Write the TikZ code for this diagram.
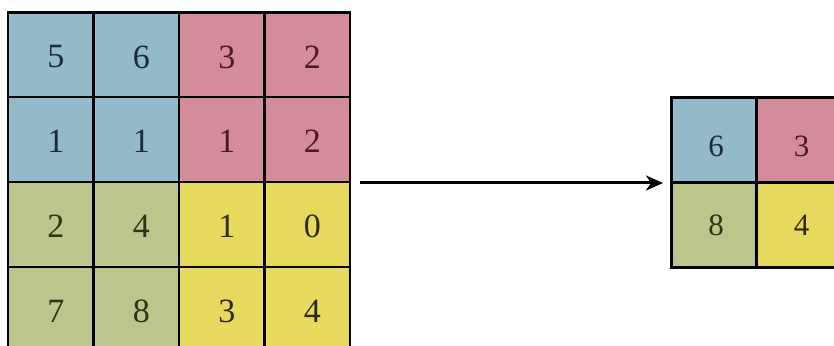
\documentclass[tikz,border=0pt]{standalone}
\usepackage{fontspec}
\setmainfont{Liberation Serif}
\usetikzlibrary{arrows.meta}
\definecolor{cblue}{HTML}{92BACB}
\definecolor{cpink}{HTML}{D48C9B}
\definecolor{cgreen}{HTML}{BBC68C}
\definecolor{cyellow}{HTML}{E6D95E}
\definecolor{tblue}{HTML}{1C2B3A}
\definecolor{tpink}{HTML}{4A1A25}
\definecolor{tgreen}{HTML}{2E3318}
\definecolor{tyellow}{HTML}{2E2A10}
\tikzset{
  cell/.style={draw=black, line width=2.6pt, rectangle, minimum width=85.5pt, minimum height=85pt, inner sep=0pt, anchor=center},
  big/.style={font=\fontsize{34}{34}\selectfont},
  small/.style={font=\fontsize{31}{31}\selectfont},
  bcell/.style={cell, fill=cblue, text=tblue},
  pcell/.style={cell, fill=cpink, text=tpink},
  gcell/.style={cell, fill=cgreen, text=tgreen},
  ycell/.style={cell, fill=cyellow, text=tyellow},
  conn/.style={line width=3pt, -{Stealth[length=17pt, width=15pt, inset=5pt]}}
}
\begin{document}
\begin{tikzpicture}[x=1pt, y=1pt]
\useasboundingbox (0,0) rectangle (834,345);
\fill[white] (0,0) rectangle (834,345);
\begin{scope}
\clip (0,0) rectangle (834,345);
\node[bcell] (a11) at (50.75,290) {};
\node[bcell] (a12) at (136.25,290) {};
\node[pcell] (a13) at (221.75,290) {};
\node[pcell] (a14) at (307.25,290) {};
\node[bcell] (a21) at (50.75,205.5) {};
\node[bcell] (a22) at (136.25,205.5) {};
\node[pcell] (a23) at (221.75,205.5) {};
\node[pcell] (a24) at (307.25,205.5) {};
\node[gcell] (a31) at (50.75,120.5) {};
\node[gcell] (a32) at (136.25,120.5) {};
\node[ycell] (a33) at (221.75,120.5) {};
\node[ycell] (a34) at (307.25,120.5) {};
\node[gcell] (a41) at (50.75,35.5) {};
\node[gcell] (a42) at (136.25,35.5) {};
\node[ycell] (a43) at (221.75,35.5) {};
\node[ycell] (a44) at (307.25,35.5) {};
\node[bcell] (b11) at (714,205) {};
\node[pcell] (b12) at (799.5,205) {};
\node[gcell] (b21) at (714,120) {};
\node[ycell] (b22) at (799.5,120) {};
\end{scope}
\foreach \n/\t/\c in {a11/5/tblue,a12/6/tblue,a13/3/tpink,a14/2/tpink,
                     a21/1/tblue,a22/1/tblue,a23/1/tpink,a24/2/tpink,
                     a31/2/tgreen,a32/4/tgreen,a33/1/tyellow,a34/0/tyellow,
                     a41/7/tgreen,a42/8/tgreen,a43/3/tyellow,a44/4/tyellow}
  \node[big, text=\c] (l\n) at ([xshift=5pt, yshift=-2pt]\n.center) {\t};
\foreach \n/\t/\c/\dy in {b11/6/tblue/-6,b12/3/tpink/-6,b21/8/tgreen/0,b22/4/tyellow/0}
  \node[small, text=\c] (l\n) at ([xshift=2pt, yshift=\dy pt]\n.center) {\t};
\coordinate (s) at (360,162);
\coordinate (e) at (663,162);
\draw[conn] (s) -- (e);
\end{tikzpicture}
\end{document}
